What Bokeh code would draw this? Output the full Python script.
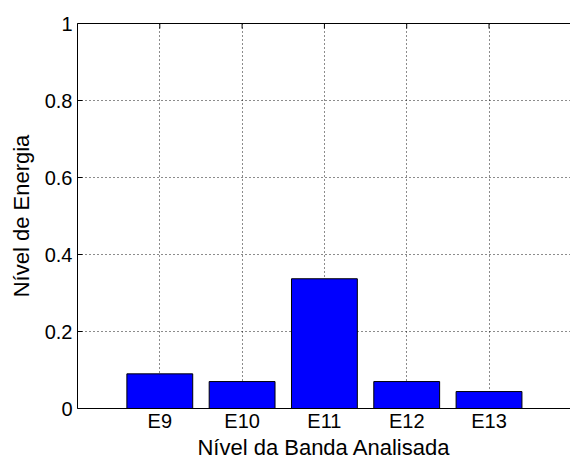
from bokeh.plotting import figure
from bokeh.models import Range1d, FixedTicker, LinearAxis, NumeralTickFormatter, ColumnDataSource
from bokeh.embed import file_html
from bokeh.resources import INLINE
import math

categories = ["E9", "E10", "E11", "E12", "E13"]
positions = [1, 2, 3, 4, 5]
energy = [0.090, 0.070, 0.337, 0.070, 0.044]
y_ticks = [0, 0.2, 0.4, 0.6, 0.8, 1.0]

FONT = "Liberation Sans"

p = figure(width=570, height=462, output_backend="svg", toolbar_location=None,
           x_range=Range1d(0, 5.99), y_range=Range1d(0, 1),
           min_border_left=77, min_border_right=0, min_border_top=23, min_border_bottom=54)
p.outline_line_color = None
p.background_fill_color = "white"
p.border_fill_color = "white"

src = ColumnDataSource(dict(x=positions, top=energy))
p.vbar(x="x", top="top", width=0.8, bottom=0, source=src,
       fill_color="#0000FF", line_color="black", line_width=1)

# inward tick marks along the top edge (half of each dash is clipped by the frame)
p.scatter(x=positions, y=[y_ticks[-1]] * len(positions), marker="dash",
          angle=math.pi / 2, size=10, line_color="black", line_width=1)

p.xaxis.ticker = FixedTicker(ticks=positions)
p.xaxis.major_label_overrides = {pos: lab for pos, lab in zip(positions, categories)}
p.yaxis.ticker = FixedTicker(ticks=y_ticks)
p.yaxis.formatter = NumeralTickFormatter(format="0.[0]")

for ax in (p.xaxis[0], p.yaxis[0]):
    ax.major_tick_in = 5
    ax.major_tick_out = 0
    ax.minor_tick_in = 0
    ax.minor_tick_out = 0
    ax.axis_line_color = "black"
    ax.major_tick_line_color = "black"
    ax.major_label_text_font = FONT
    ax.major_label_text_font_size = "20px"
    ax.major_label_text_color = "black"
    ax.axis_label_text_font = FONT
    ax.axis_label_text_font_size = "22px"
    ax.axis_label_text_font_style = "normal"
    ax.axis_label_text_color = "black"

p.xaxis.major_tick_in = 0
p.xaxis.axis_label = "Nível da Banda Analisada"
p.yaxis.axis_label = "Nível de Energia"
p.xaxis.major_label_standoff = 1
p.xaxis.axis_label_standoff = 0
p.yaxis.major_label_standoff = 5
p.yaxis.axis_label_standoff = 8

top_axis = LinearAxis(ticker=FixedTicker(ticks=[]))
top_axis.major_tick_in = 0
top_axis.major_tick_out = 0
top_axis.minor_tick_in = 0
top_axis.minor_tick_out = 0
top_axis.axis_line_color = "black"
p.add_layout(top_axis, "above")

for g, ticks in ((p.xgrid[0], positions), (p.ygrid[0], y_ticks)):
    g.ticker = FixedTicker(ticks=ticks)
    g.grid_line_color = "black"
    g.grid_line_dash = "1 3"
    g.grid_line_width = 1
    g.grid_line_alpha = 0.9

open("out.html", "w").write(file_html(p, INLINE))
